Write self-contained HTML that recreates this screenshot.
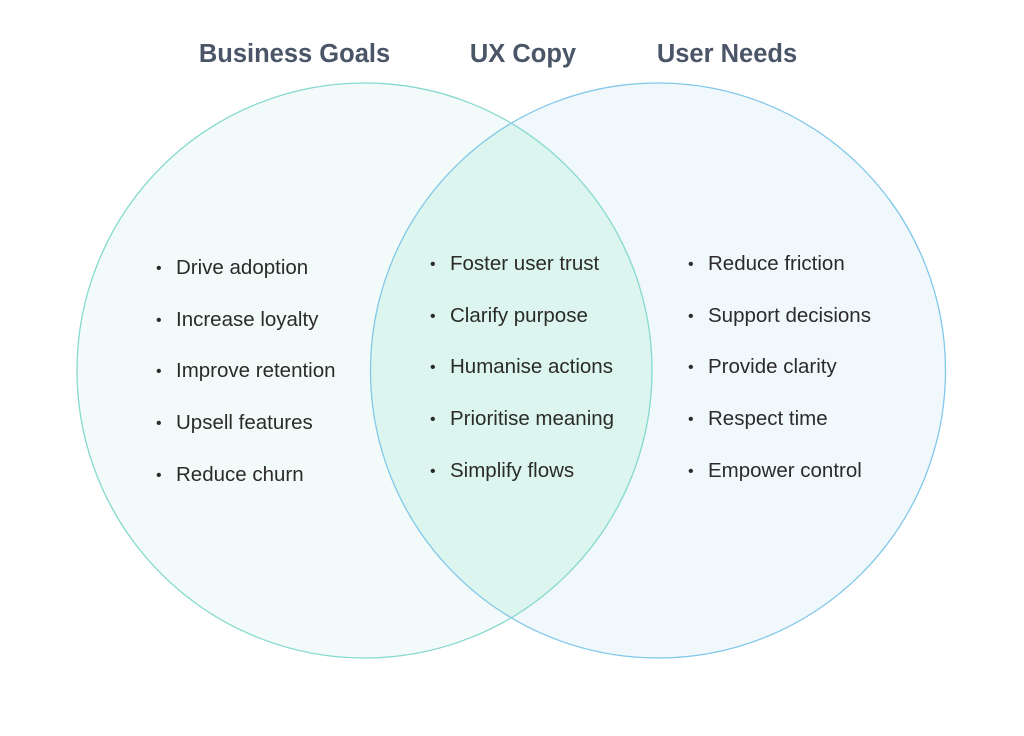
<!DOCTYPE html>
<html><head><style>
body{margin:0;background:#fff;}
svg{display:block;}
text{font-family:"Liberation Sans",sans-serif;}
.t{font-size:25.5px;font-weight:bold;fill:#4b5568;}
.i{font-size:20.5px;fill:#2b2b2b;}
.b{font-size:16px;fill:#2b2b2b;}
</style></head><body>
<svg width="1024" height="736" viewBox="0 0 1024 736">
<defs><clipPath id="c"><circle cx="364.5" cy="370.5" r="287.5"/></clipPath></defs>
<circle cx="364.5" cy="370.5" r="287.5" fill="#f2fbf9"/>
<circle cx="658" cy="370.5" r="287.5" fill="#f1f8fc"/>
<circle cx="658" cy="370.5" r="287.5" fill="#dcf5ee" clip-path="url(#c)"/>
<circle cx="364.5" cy="370.5" r="287.5" fill="none" stroke="#85d9ce" stroke-width="1.3"/>
<circle cx="658" cy="370.5" r="287.5" fill="none" stroke="#82c8ea" stroke-width="1.3"/>
<text class="t" x="294.5" y="62" text-anchor="middle">Business Goals</text>
<text class="t" x="523" y="62" text-anchor="middle">UX Copy</text>
<text class="t" x="727" y="62" text-anchor="middle">User Needs</text>
<g class="b">
<text x="156" y="273">•</text><text x="156" y="325">•</text><text x="156" y="376">•</text><text x="156" y="428">•</text><text x="156" y="480">•</text>
<text x="430" y="269">•</text><text x="430" y="321">•</text><text x="430" y="372">•</text><text x="430" y="424">•</text><text x="430" y="476">•</text>
<text x="688" y="269">•</text><text x="688" y="321">•</text><text x="688" y="372">•</text><text x="688" y="424">•</text><text x="688" y="476">•</text>
</g>
<g class="i">
<text x="176" y="274">Drive adoption</text>
<text x="176" y="326">Increase loyalty</text>
<text x="176" y="377">Improve retention</text>
<text x="176" y="429">Upsell features</text>
<text x="176" y="481">Reduce churn</text>
<text x="450" y="270">Foster user trust</text>
<text x="450" y="322">Clarify purpose</text>
<text x="450" y="373">Humanise actions</text>
<text x="450" y="425">Prioritise meaning</text>
<text x="450" y="477">Simplify flows</text>
<text x="708" y="270">Reduce friction</text>
<text x="708" y="322">Support decisions</text>
<text x="708" y="373">Provide clarity</text>
<text x="708" y="425">Respect time</text>
<text x="708" y="477">Empower control</text>
</g>
</svg>
</body></html>
